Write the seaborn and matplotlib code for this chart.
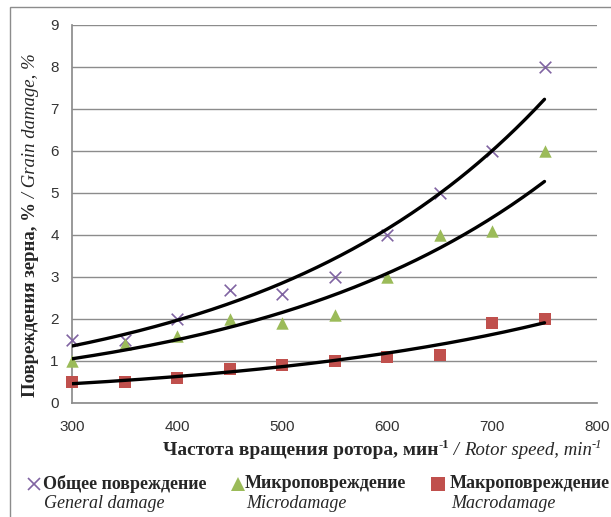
import numpy as np
import pandas as pd
import matplotlib
matplotlib.use("Agg")
import matplotlib.pyplot as plt
import seaborn as sns
from matplotlib.patches import Rectangle
from matplotlib.lines import Line2D
from matplotlib.transforms import IdentityTransform

rotor_speed = [300, 350, 400, 450, 500, 550, 600, 650, 700, 750]
general_damage = [1.5, 1.5, 2.0, 2.7, 2.6, 3.0, 4.0, 5.0, 6.0, 8.0]
micro_damage = [1.0, 1.4, 1.6, 2.0, 1.9, 2.1, 3.0, 4.0, 4.1, 6.0]
macro_damage = [0.5, 0.5, 0.6, 0.8, 0.9, 1.0, 1.1, 1.15, 1.9, 2.0]

series_ru = ["Общее повреждение", "Микроповреждение", "Макроповреждение"]
series_en = ["General damage", "Microdamage", "Macrodamage"]
colors = ["#8064A2", "#9BBB59", "#C0504D"]
markers = ["x", "^", "s"]

df = pd.DataFrame({
    "speed": rotor_speed * 3,
    "damage": general_damage + micro_damage + macro_damage,
    "series": [s for s in series_ru for _ in rotor_speed],
})

sns.set_theme(style="white")
plt.rcParams["font.family"] = ["Liberation Sans", "DejaVu Sans"]

W, H = 611, 517
fig = plt.figure(figsize=(W / 100, H / 100), dpi=100)
ax = fig.add_axes([72 / W, 1 - 403 / H, 525 / W, 378 / H])

# chart area border
fig.patches.append(Rectangle((10 / W, -0.1), 1.2, 1 - 7 / H + 0.1,
                             transform=fig.transFigure, fill=False,
                             edgecolor="#8c8c8c", lw=1.0))

for name, col, mk in zip(series_ru, colors, markers):
    sub = df[df["series"] == name]
    size = 70 if mk == "x" else 80
    sns.scatterplot(data=sub, x="speed", y="damage", marker=mk, color=col,
                    s=size, linewidth=1.2 if mk == "x" else 0, ax=ax,
                    clip_on=False, zorder=3, legend=False)
    # exponential trendline (Excel style)
    x = np.array(sub["speed"], dtype=float)
    b, a = np.polyfit(x, np.log(sub["damage"]), 1)
    xs = np.linspace(x.min(), x.max(), 200)
    ax.plot(xs, np.exp(a) * np.exp(b * xs), color="black", lw=2.4, zorder=4)

ax.set_xlim(300, 800)
ax.set_ylim(0, 9)
ax.set_xticks(range(300, 801, 100))
ax.set_yticks(range(0, 10))
ax.yaxis.grid(True, color="#8c8c8c", lw=1.0)
ax.set_axisbelow(True)
for s in ["top", "right"]:
    ax.spines[s].set_visible(False)
for s in ["left", "bottom"]:
    ax.spines[s].set_color("#8c8c8c")
ax.tick_params(axis="both", direction="inout", length=9, color="#8c8c8c",
               labelsize=11, labelcolor="#333333", width=1.0)
ax.tick_params(axis="x", pad=8)
ax.tick_params(axis="y", pad=5)
ax.set_xlabel("")
ax.set_ylabel("")

renderer = fig.canvas.get_renderer()
serif = "Liberation Serif"


def chain(parts, x, y, rotation=0):
    # place text pieces one after another along the baseline (pixel coords)
    for s, kw, rise in parts:
        if rotation == 0:
            px, py = x, y + rise
        else:
            px, py = x - rise, y
        t = fig.text(px, py, s, transform=IdentityTransform(), ha="left",
                     va="baseline", rotation=rotation, rotation_mode="anchor",
                     family=serif, **kw)
        bb = t.get_window_extent(renderer)
        if rotation == 0:
            x = bb.x1
        else:
            y = bb.y1


bold = dict(weight="bold", fontsize=14)
ital = dict(style="italic", fontsize=13.5)
sup_b = dict(weight="bold", fontsize=9)
sup_i = dict(style="italic", fontsize=9)

chain([("Частота вращения ротора, мин", bold, 0),
       ("-1", sup_b, 7),
       (" / ", ital, 0),
       ("Rotor speed, min", ital, 0),
       ("-1", sup_i, 7)], 163, H - 455)

chain([("Повреждения зерна, %", dict(weight="bold", fontsize=13.5), 0),
       (" / Grain damage, %", dict(style="italic", fontsize=13.5), 0)],
      35, H - 397, rotation=90)

# legend
leg_x = [34, 238, 438]
txt_x = [43, 245, 450]
for i in range(3):
    fig.lines.append(Line2D(
        [leg_x[i] / W], [1 - 484 / H], transform=fig.transFigure,
        marker=markers[i], color=colors[i], ms=9 if markers[i] == "x" else 9.5,
        mew=1.2 if markers[i] == "x" else 0, linestyle="none"))
    fig.text(txt_x[i] / W, 1 - 484 / H, series_ru[i],
             family=serif, weight="bold", fontsize=13,
             ha="left", va="center")
    fig.text((txt_x[i] + 1) / W, 1 - 503 / H, series_en[i],
             family=serif, style="italic", fontsize=13,
             ha="left", va="center")

fig.savefig("out.png", dpi=100)
